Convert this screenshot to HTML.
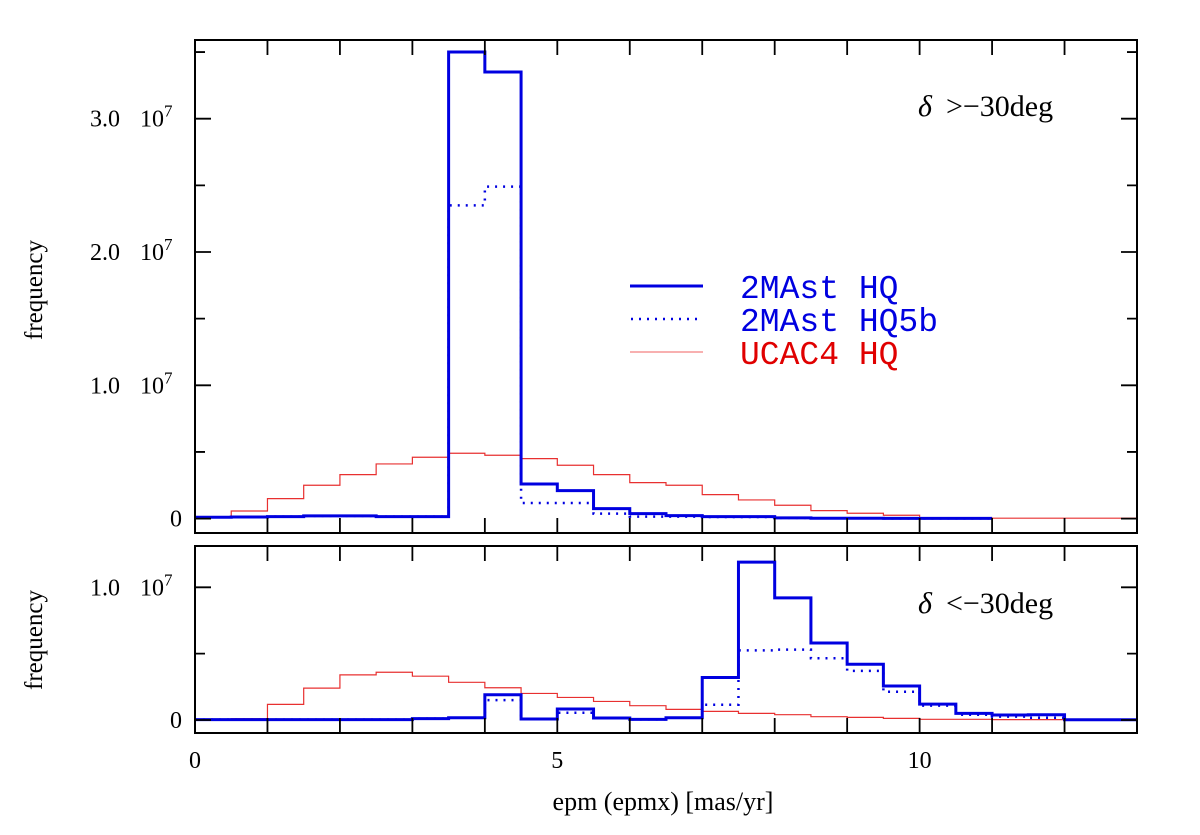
<!DOCTYPE html>
<html><head><meta charset="utf-8"><style>
body{margin:0;background:#fff;}
svg{display:block;}
text{font-family:"Liberation Serif",serif;fill:#000;}
.leg{font-family:"Liberation Mono",monospace;font-size:33px;}
</style></head><body>
<svg id="chart" width="1200" height="835" xmlns="http://www.w3.org/2000/svg">
<g id="top"></g>
<g id="bot"></g>
<g>
<line x1="630" y1="286" x2="703" y2="286" stroke="#0000e0" stroke-width="3"/>
<line x1="631" y1="319" x2="703" y2="319" stroke="#0000e0" stroke-width="2.5" stroke-dasharray="2,6"/>
<line x1="630" y1="352" x2="703" y2="352" stroke="#f06060" stroke-width="1"/>
<text class="leg" x="740" y="298" style="fill:#0000e0">2MAst HQ</text>
<text class="leg" x="740" y="331" style="fill:#0000e0">2MAst HQ5b</text>
<text class="leg" x="740" y="364" style="fill:#e00000">UCAC4 HQ</text>
</g>
<text x="918" y="116" font-size="30"><tspan font-style="italic">δ</tspan><tspan dx="14">&gt;−30deg</tspan></text>
<text x="918" y="613" font-size="30"><tspan font-style="italic">δ</tspan><tspan dx="14">&lt;−30deg</tspan></text>
<text x="663" y="810" font-size="26" text-anchor="middle">epm (epmx) [mas/yr]</text>
<text transform="translate(42,290) rotate(-90)" font-size="25" text-anchor="middle">frequency</text>
<text transform="translate(42,640) rotate(-90)" font-size="25" text-anchor="middle">frequency</text>
</svg>
<script>
// bins of width 0.5 starting at 0 (values in units of 1e7)
const binStart = 0, binWidth = 0.5;
const xTicksLabeled = [0, 5, 10];
const topYTickLabels = ["0", "1.0", "2.0", "3.0"];
const topYTickValues = [0, 1, 2, 3];
const botYTickLabels = ["0", "1.0"];
const botYTickValues = [0, 1];
const topSolid = [0.01,0.012,0.015,0.02,0.02,0.015,0.015,3.5,3.35,0.26,0.21,0.075,0.037,0.022,0.015,0.015,0.005,0.003,0.003,0.002,0.002,0.002];
const topDotted = [0.01,0.012,0.015,0.02,0.02,0.015,0.015,2.35,2.49,0.117,0.117,0.037,0.015,0.015,0.012,0.012,0.005,0.003,0.003,0.002,0.002,0.002];
const topRed = [0.005,0.057,0.15,0.25,0.33,0.41,0.46,0.49,0.475,0.45,0.40,0.33,0.27,0.25,0.18,0.14,0.10,0.06,0.04,0.025,0.005,0.005,0.003,0.003,0.003,0.003];
const botSolid = [0.003,0.003,0.003,0.003,0.003,0.003,0.01,0.017,0.19,0.008,0.083,0.015,0.005,0.017,0.32,1.19,0.92,0.58,0.42,0.256,0.12,0.05,0.038,0.04,0.002,0.002];
const botDotted = [0.003,0.003,0.003,0.003,0.003,0.003,0.01,0.017,0.15,0.008,0.055,0.015,0.005,0.017,0.115,0.525,0.53,0.465,0.37,0.213,0.108,0.04,0.025,0.017,0.002,0.002];
const botRed = [0.0,0.01,0.118,0.24,0.34,0.36,0.33,0.284,0.243,0.2,0.17,0.14,0.108,0.08,0.065,0.05,0.04,0.025,0.02,0.012,0.005,0.005,0.003,0.003,0.003,0.003];

const NS = "http://www.w3.org/2000/svg";
const X0 = 195, X1 = 1137, XMIN = 0, XMAX = 13;
const xs = v => X0 + (v - XMIN) / (XMAX - XMIN) * (X1 - X0);
const topP = {g: document.getElementById('top'), y0: 40, y1: 533, zero: 518.6, k: 133.3};
const botP = {g: document.getElementById('bot'), y0: 546, y1: 733, zero: 720, k: 132.7};
function ys(p, v) { return p.zero - v * p.k; }
function mk(tag, attrs, parent) {
  const e = document.createElementNS(NS, tag);
  for (const a in attrs) e.setAttribute(a, attrs[a]);
  parent.appendChild(e);
  return e;
}
function stepPath(p, vals) {
  let d = "";
  vals.forEach((v, i) => {
    const xa = xs(binStart + i * binWidth), xb = xs(binStart + (i + 1) * binWidth), y = ys(p, v);
    d += (i === 0 ? "M" : "L") + xa + "," + y + "L" + xb + "," + y;
  });
  return d;
}
function panel(p, red, dotted, solid, yLabels, yVals, minorMax, name) {
  const r = mk('path', {d: stepPath(p, red), fill: 'none', stroke: '#e83030', 'stroke-width': 1.2}, p.g);
  
  
  const dt = mk('path', {d: stepPath(p, dotted), fill: 'none', stroke: '#0000e0', 'stroke-width': 2.5, 'stroke-dasharray': '2,6'}, p.g);
  
  
  const s = mk('path', {d: stepPath(p, solid), fill: 'none', stroke: '#0000e0', 'stroke-width': 3}, p.g);
  
  
  const f = mk('rect', {x: X0, y: p.y0, width: X1 - X0, height: p.y1 - p.y0, fill: 'none', stroke: '#000', 'stroke-width': 2}, p.g);
  
  
  let d = "";
  for (let t = XMIN; t <= XMAX; t++) {
    const x = xs(t);
    d += `M${x},${p.y1}L${x},${p.y1 - 15}M${x},${p.y0}L${x},${p.y0 + 15}`;
  }
  for (let v = 0; v <= minorMax + 1e-9; v += 0.5) {
    const y = ys(p, v); const L = (Math.abs(v - Math.round(v)) < 1e-6) ? 16 : 10;
    d += `M${X0},${y}L${X0 + L},${y}M${X1},${y}L${X1 - L},${y}`;
  }
  const tk = mk('path', {d: d, stroke: '#000', 'stroke-width': 1.8, fill: 'none'}, p.g);
  
  
  yLabels.forEach((lab, i) => {
    const y = ys(p, yVals[i]) + 8;
    const t = mk('text', {x: lab === "0" ? 182 : 120, y: y, 'font-size': 24, 'text-anchor': 'end'}, p.g);
    t.textContent = lab;
    
    
    if (lab !== "0") {
      const e = mk('text', {x: 140, y: y, 'font-size': 24}, p.g);
      e.innerHTML = '10<tspan dy="-10" font-size="17">7</tspan>';
      
      
    }
  });
}
panel(topP, topRed, topDotted, topSolid, topYTickLabels, topYTickValues, 3.5, 'top');
panel(botP, botRed, botDotted, botSolid, botYTickLabels, botYTickValues, 1.0, 'bottom');
const svg = document.getElementById('chart');
xTicksLabeled.forEach(v => {
  const t = mk('text', {x: xs(v), y: 768, 'font-size': 24, 'text-anchor': 'middle'}, svg);
  t.textContent = v;
  
  
});
</script>
</body></html>
